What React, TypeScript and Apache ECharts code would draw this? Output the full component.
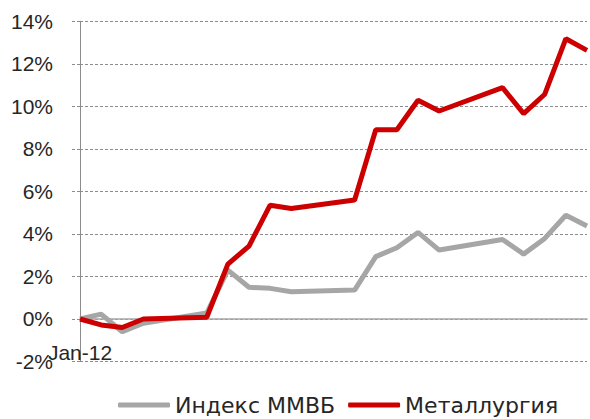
import React, { useEffect, useRef } from "react";
import * as echarts from "echarts";

const categories = [
  "Jan-12", "", "", "", "", "", "", "", "", "", "", "", "",
  "", "", "", "", "", "", "", "", "", "", "", "",
];
const mmvb = [0, 0.23, -0.6, -0.2, null, null, 0.28, 2.3, 1.49, 1.44, 1.28, null, null, 1.36, 2.93, 3.35, 4.07, 3.24, null, null, 3.74, 3.05, 3.79, 4.88, 4.37];
const metal = [0, -0.28, -0.4, 0.0, null, null, 0.08, 2.58, 3.43, 5.35, 5.2, null, null, 5.6, 8.9, 8.9, 10.29, 9.78, null, null, 10.88, 9.66, 10.57, 13.18, 12.63];
const seriesNames = ["Индекс ММВБ", "Металлургия"];

export default function App() {
  const ref = useRef<HTMLDivElement>(null);
  useEffect(() => {
    document.body.style.margin = "0";
    const chart = echarts.init(ref.current!, null, { renderer: "svg" });
    const font = "'Liberation Sans', Arial, sans-serif";
    chart.setOption({
      animation: false,
      backgroundColor: "#ffffff",
      grid: { left: 80, right: 0, top: 21.3, bottom: 57.5 },
      legend: {
        left: 118,
        top: 394,
        padding: 0,
        icon: "roundRect",
        itemWidth: 52,
        itemHeight: 5,
        itemGap: 13,
        textStyle: { fontFamily: "'DejaVu Sans', sans-serif", fontSize: 22, lineHeight: 22, color: "#262626" },
        data: seriesNames,
      },
      xAxis: {
        type: "category",
        data: categories,
        boundaryGap: false,
        axisLine: { onZero: true, lineStyle: { color: "#a6a6a6", width: 1.5 } },
        axisTick: { show: false },
        axisLabel: { interval: 0, margin: -20, fontFamily: font, fontSize: 21, color: "#262626" },
        splitLine: { show: false },
      },
      yAxis: {
        type: "value",
        min: -2,
        max: 14,
        interval: 2,
        axisLine: { show: true, lineStyle: { color: "#8c8c8c", width: 1 } },
        axisTick: { show: true, length: 10, lineStyle: { color: "#8c8c8c", type: [3, 2] } },
        axisLabel: { margin: 27, formatter: "{value}%", fontFamily: font, fontSize: 21, color: "#262626" },
        splitLine: { show: true, lineStyle: { color: "#8c8c8c", type: [3, 2], width: 1 } },
      },
      series: [
        {
          name: seriesNames[0],
          type: "line",
          data: mmvb,
          connectNulls: true,
          symbol: "none",
          lineStyle: { color: "#a6a6a6", width: 5 },
          itemStyle: { color: "#a6a6a6" },
        },
        {
          name: seriesNames[1],
          type: "line",
          data: metal,
          connectNulls: true,
          symbol: "none",
          lineStyle: { color: "#cc0000", width: 5 },
          itemStyle: { color: "#cc0000" },
        },
      ],
    });
    return () => chart.dispose();
  }, []);
  return <div ref={ref} style={{ width: 590, height: 419 }} />;
}
